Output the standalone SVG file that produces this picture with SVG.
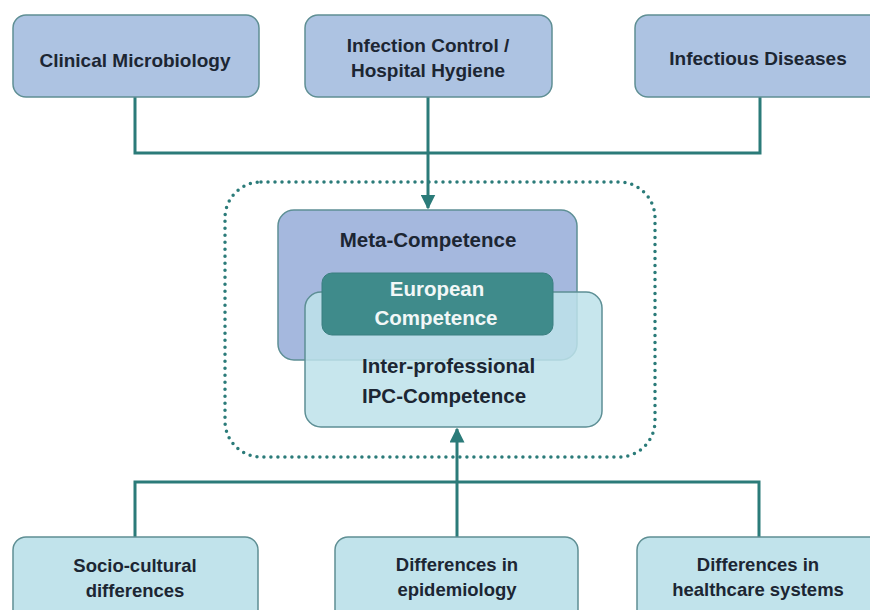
<svg xmlns="http://www.w3.org/2000/svg" width="870" height="610" viewBox="0 0 870 610">
<defs>
<marker id="ah" viewBox="0 0 10 10" refX="9" refY="5" markerWidth="5" markerHeight="5" orient="auto" markerUnits="strokeWidth">
<path d="M0,0 L10,5 L0,10 z" fill="#2b7b79"/>
</marker>
</defs>
<style>
.top{fill:#adc3e2;stroke:#5f8f94;stroke-width:1.5}
.bot{fill:#c1e3eb;stroke:#5f8f94;stroke-width:1.5}
.t{font-family:"Liberation Sans",Arial,sans-serif;font-weight:bold;fill:#1c2633;text-anchor:middle}
.s19{font-size:19px}
.s18{font-size:18.5px}
.s20{font-size:20.5px}
.con{fill:none;stroke:#2b7b79;stroke-width:3}
</style>
<rect width="870" height="610" fill="#ffffff"/>
<g id="connectors">
<path class="con" d="M135,97 V153 H760 V97"/>
<line class="con" x1="428" y1="97" x2="428" y2="208" marker-end="url(#ah)"/>
<path class="con" d="M135,537 V482 H759 V537"/>
<line class="con" x1="457" y1="537" x2="457" y2="429" marker-end="url(#ah)"/>
</g>
<g id="boundary">
<rect x="225" y="182" width="430" height="275" rx="36" fill="none" stroke="#2b7b79" stroke-width="3.5" stroke-dasharray="0 7" stroke-linecap="round"/>
</g>
<g id="clinical-microbiology">
<rect class="top" x="13" y="15" width="246" height="82" rx="13"/>
<text class="t s19" x="135" y="67">Clinical Microbiology</text>
</g>
<g id="infection-control">
<rect class="top" x="305" y="15" width="247" height="82" rx="13"/>
<text class="t s19" x="428" y="52">Infection Control /</text>
<text class="t s19" x="428" y="77">Hospital Hygiene</text>
</g>
<g id="infectious-diseases">
<rect class="top" x="635" y="15" width="250" height="82" rx="13"/>
<text class="t s19" x="758" y="65">Infectious Diseases</text>
</g>
<g id="meta-competence">
<rect x="278" y="210" width="299" height="150" rx="16" fill="#a5b8de" stroke="#5d8f95" stroke-width="1.5"/>
<text class="t s20" x="428" y="247">Meta-Competence</text>
</g>
<g id="ipc-competence">
<rect x="305" y="292" width="297" height="135" rx="16" fill="#bde2ea" fill-opacity="0.85" stroke="#5d8f95" stroke-width="1.5"/>
<text class="t s20" x="362" y="373" style="text-anchor:start">Inter-professional</text>
<text class="t s20" x="362" y="403" style="text-anchor:start">IPC-Competence</text>
</g>
<g id="european-competence">
<rect x="322" y="273" width="231" height="62" rx="10" fill="#3f8b8b" stroke="#3a7f80" stroke-width="1"/>
<text class="t s20" x="437" y="296" style="fill:#f2f7f7">European</text>
<text class="t s20" x="436" y="325" style="fill:#f2f7f7">Competence</text>
</g>
<g id="socio-cultural">
<rect class="bot" x="13" y="537" width="245" height="90" rx="13"/>
<text class="t s18" x="135" y="572">Socio-cultural</text>
<text class="t s18" x="135" y="597">differences</text>
</g>
<g id="epidemiology">
<rect class="bot" x="335" y="537" width="243" height="90" rx="13"/>
<text class="t s18" x="457" y="571">Differences in</text>
<text class="t s18" x="457" y="596">epidemiology</text>
</g>
<g id="healthcare-systems">
<rect class="bot" x="637" y="537" width="250" height="90" rx="13"/>
<text class="t s18" x="758" y="571">Differences in</text>
<text class="t s18" x="758" y="596">healthcare systems</text>
</g>
</svg>
